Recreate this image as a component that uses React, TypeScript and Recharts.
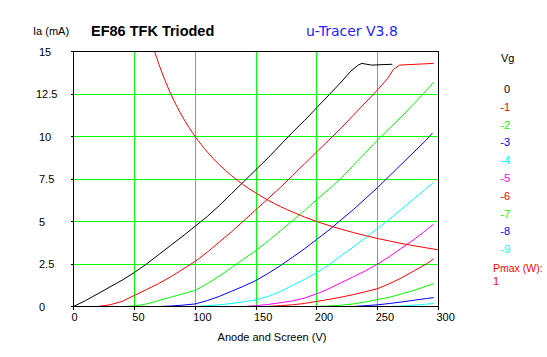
import { LineChart, Line, XAxis, YAxis, CartesianGrid, ReferenceArea } from 'recharts'

type Pt = [number, number] // [anode volts, Ia mA]

// Ia curves per grid voltage
const VG_0: Pt[] = [
  [0, 0], [10, 0.35], [20, 0.75], [30, 1.15], [40, 1.55], [50, 2.0], [60, 2.5], [70, 3.05],
  [80, 3.6], [90, 4.15], [100, 4.72], [110, 5.3], [120, 5.95], [130, 6.65], [140, 7.35],
  [150, 8.05], [160, 8.75], [170, 9.5], [180, 10.25], [190, 10.95], [200, 11.7], [210, 12.45],
  [220, 13.2], [228, 13.85], [234, 14.2], [237, 14.3], [245, 14.2], [262, 14.25],
]
const VG_1: Pt[] = [
  [20, 0], [30, 0.1], [40, 0.3], [50, 0.65], [60, 1.0], [70, 1.35], [80, 1.75], [90, 2.2],
  [100, 2.65], [110, 3.2], [120, 3.8], [130, 4.4], [140, 5.05], [150, 5.7], [160, 6.35],
  [170, 7.0], [180, 7.7], [190, 8.4], [200, 9.1], [210, 9.8], [220, 10.5], [230, 11.25],
  [240, 12.0], [250, 12.75], [258, 13.4], [263, 13.95], [268, 14.2], [296, 14.3],
]
const VG_2: Pt[] = [
  [40, 0], [50, 0.03], [60, 0.15], [70, 0.35], [80, 0.55], [90, 0.75], [100, 0.95],
  [110, 1.35], [120, 1.8], [130, 2.3], [140, 2.8], [150, 3.3], [160, 3.85], [170, 4.45],
  [180, 5.05], [190, 5.65], [200, 6.3], [210, 6.9], [220, 7.55], [230, 8.3], [240, 9.05],
  [250, 9.8], [260, 10.5], [270, 11.2], [280, 11.95], [290, 12.7], [296, 13.2],
]
const VG_3: Pt[] = [
  [70, 0], [80, 0.03], [90, 0.08], [100, 0.15], [110, 0.35], [120, 0.6], [130, 0.9],
  [140, 1.2], [150, 1.53], [160, 1.95], [170, 2.4], [180, 2.9], [190, 3.4], [200, 3.95],
  [210, 4.5], [220, 5.1], [230, 5.7], [240, 6.35], [250, 7.0], [260, 7.7], [270, 8.4],
  [280, 9.1], [290, 9.8], [295, 10.2],
]
const VG_4: Pt[] = [
  [100, 0], [110, 0.05], [120, 0.1], [130, 0.18], [140, 0.28], [150, 0.39], [160, 0.6],
  [170, 0.88], [180, 1.25], [190, 1.6], [200, 2.0], [210, 2.45], [220, 3.0], [230, 3.5],
  [240, 4.05], [250, 4.6], [260, 5.15], [270, 5.75], [280, 6.35], [290, 6.95], [296, 7.3],
]
const VG_5: Pt[] = [
  [140, 0], [150, 0.05], [160, 0.12], [170, 0.22], [180, 0.33], [190, 0.5], [200, 0.75],
  [210, 1.05], [220, 1.4], [230, 1.75], [240, 2.1], [250, 2.5], [260, 2.95], [270, 3.45],
  [280, 3.95], [290, 4.5], [296, 4.85],
]
const VG_6: Pt[] = [
  [160, 0], [170, 0.05], [180, 0.1], [190, 0.18], [200, 0.3], [210, 0.42], [220, 0.55],
  [230, 0.7], [240, 0.87], [250, 1.05], [260, 1.35], [270, 1.7], [280, 2.1], [290, 2.5], [296, 2.8],
]
const VG_7: Pt[] = [
  [200, 0], [210, 0.03], [220, 0.08], [230, 0.15], [240, 0.27], [250, 0.41], [260, 0.55],
  [270, 0.75], [280, 0.95], [290, 1.2], [296, 1.33],
]
const VG_8: Pt[] = [
  [230, 0], [240, 0.05], [250, 0.1], [260, 0.18], [270, 0.27], [280, 0.37], [290, 0.47], [296, 0.52],
]
const VG_9: Pt[] = [
  [4, 0], [260, 0], [270, 0.03], [280, 0.08], [290, 0.14], [296, 0.18],
]

// 1 W dissipation limit
const PMAX: Pt[] = [
  [66.7, 15], [70, 14.29], [80, 12.5], [90, 11.11], [100, 10], [110, 9.09], [120, 8.33],
  [130, 7.69], [140, 7.14], [150, 6.67], [160, 6.25], [170, 5.88], [180, 5.56], [190, 5.26],
  [200, 5], [210, 4.76], [220, 4.55], [230, 4.35], [240, 4.17], [250, 4], [260, 3.85],
  [270, 3.7], [280, 3.57], [290, 3.45], [300, 3.33],
]

const CURVES = [VG_0, VG_1, VG_2, VG_3, VG_4, VG_5, VG_6, VG_7, VG_8, VG_9]
const VG_LABELS = ['0', '-1', '-2', '-3', '-4', '-5', '-6', '-7', '-8', '-9']
const VG_COLORS = [
  '#000000', '#ff0000', '#00ff00', '#0000ff', '#00ffff',
  '#ff00ff', '#ff0000', '#00ff00', '#0000ff', '#00ffff',
]
const X_TICKS = [0, 50, 100, 150, 200, 250, 300]
const Y_TICKS = [0, 2.5, 5, 7.5, 10, 12.5, 15]

const FONT = '"Liberation Sans", Arial, sans-serif'

const toRows = (pts: Pt[]) => pts.map(([v, ia]) => ({ v, ia }))

function XTick({ x, payload }: any) {
  return (
    <text x={x - 2} y={317} fontSize={11} fontFamily={FONT} fill="#000" dominantBaseline="central">
      {payload.value}
    </text>
  )
}

function YTick({ y, payload }: any) {
  return (
    <text x={payload.value === 12.5 ? 36 : 39} y={y} fontSize={11} fontFamily={FONT} fill="#000" dominantBaseline="central">
      {payload.value}
    </text>
  )
}

export default function App() {
  return (
    <div style={{ position: 'absolute', left: 0, top: 0, width: 547, height: 357, background: '#fff' }}>
      <style>{'.recharts-cartesian-grid line, .recharts-cartesian-axis line, .recharts-reference-area rect { shape-rendering: crispEdges; }'}</style>
      <LineChart
        width={547}
        height={357}
        margin={{ top: 51.5, right: 108.5, bottom: 20.5, left: 43.5 }}
      >
        <CartesianGrid stroke="#00ff00" strokeWidth={1} />
        <XAxis
          dataKey="v"
          type="number"
          domain={[0, 300]}
          ticks={X_TICKS}
          height={30}
          stroke="#000"
          tickSize={3}
          tick={<XTick />}
          allowDataOverflow
        />
        <YAxis
          type="number"
          domain={[0, 15]}
          ticks={Y_TICKS}
          width={30}
          stroke="#000"
          tickSize={3}
          tick={<YTick />}
          allowDataOverflow
        />
        <ReferenceArea x1={0} x2={300} y1={0} y2={15} fill="none" stroke="#000" strokeOpacity={1} fillOpacity={0} />
        {CURVES.map((c, i) => (
          <Line
            key={VG_LABELS[i]}
            data={toRows(c)}
            dataKey="ia"
            type="linear"
            stroke={VG_COLORS[i]}
            strokeWidth={1}
            dot={false}
            isAnimationActive={false}
          />
        ))}
        <Line
          data={toRows(PMAX)}
          dataKey="ia"
          type="monotone"
          stroke="#ff0000"
          strokeWidth={1}
          dot={false}
          isAnimationActive={false}
        />
      </LineChart>

      <svg width={547} height={357} style={{ position: 'absolute', left: 0, top: 0, pointerEvents: 'none' }}>
        <text x={33} y={31} fontSize={11} fontFamily={FONT} dominantBaseline="central">Ia (mA)</text>
        <text x={91} y={31} fontSize={14.5} fontWeight="bold" fontFamily={FONT} dominantBaseline="central">
          EF86 TFK Trioded
        </text>
        <text x={306} y={31} fontSize={14} fontFamily='"DejaVu Sans", sans-serif' fill="#2323ff" dominantBaseline="central">
          u-Tracer V3.8
        </text>
        <text x={272} y={337} fontSize={11} fontFamily={FONT} textAnchor="middle" dominantBaseline="central">
          Anode and Screen (V)
        </text>
        <text x={501} y={58} fontSize={11} fontFamily={FONT} dominantBaseline="central">Vg</text>
        {VG_LABELS.map((l, i) => (
          <text
            key={l}
            x={510}
            y={89 + i * 17.8}
            fontSize={11}
            fontFamily={FONT}
            fill={VG_COLORS[i]}
            textAnchor="end"
            dominantBaseline="central"
          >
            {l}
          </text>
        ))}
        <text x={493} y={268} fontSize={10.5} fontFamily={FONT} fill="#ff0000" dominantBaseline="central">Pmax (W):</text>
        <text x={493} y={281} fontSize={11} fontFamily={FONT} fill="#ff0000" dominantBaseline="central">1</text>
      </svg>
    </div>
  )
}
